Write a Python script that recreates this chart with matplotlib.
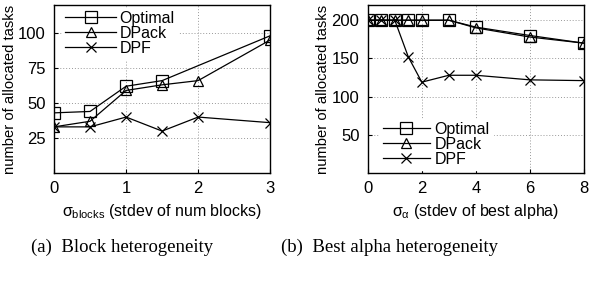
import matplotlib
matplotlib.use("Agg")
import matplotlib.pyplot as plt

plt.rcParams['font.family'] = ['Liberation Sans', 'DejaVu Sans']
plt.rcParams['mathtext.fontset'] = 'custom'
plt.rcParams['mathtext.rm'] = 'Liberation Sans'
plt.rcParams['mathtext.it'] = 'Liberation Sans'
plt.rcParams['mathtext.sf'] = 'Liberation Sans'

# (a) block heterogeneity
blocks_x_opt = [0, 0.5, 1, 1.5, 3]
blocks_opt = [43, 44, 62, 66, 98]
blocks_x = [0, 0.5, 1, 1.5, 2, 3]
blocks_dpack = [33, 37, 59, 63, 66, 95]
blocks_dpf = [33, 33, 40, 30, 40, 36]

# (b) best alpha heterogeneity
alpha_x = [0, 0.5, 1, 1.5, 2, 3, 4, 6, 8]
alpha_opt = [200, 200, 200, 200, 200, 200, 191, 180, 170]
alpha_dpack = [200, 200, 200, 200, 200, 200, 190, 178, 170]
alpha_dpf = [200, 200, 200, 152, 119, 128, 128, 122, 121]

fig = plt.figure(figsize=(6.14, 2.9), dpi=100)
ax1 = fig.add_axes([0.088, 0.403, 0.352, 0.580])
ax2 = fig.add_axes([0.599, 0.403, 0.352, 0.580])

lw = 0.9
style = dict(color='black', lw=lw, markerfacecolor='none', markeredgecolor='black', markeredgewidth=0.9)


def setup(ax):
    ax.grid(True, color='#999999', linestyle=(0, (1, 2)), linewidth=0.7)
    ax.set_axisbelow(True)
    ax.tick_params(direction='in', length=3, labelsize=12, top=False, right=False, pad=6)
    for s in ax.spines.values():
        s.set_linewidth(1.0)
    ax.set_ylabel('number of allocated tasks', fontsize=10.6, labelpad=1)


ax1.plot(blocks_x_opt, blocks_opt, marker='s', markersize=8.6, label='Optimal', **style)
ax1.plot(blocks_x, blocks_dpack, marker='^', markersize=6.5, label='DPack', **style)
ax1.plot(blocks_x, blocks_dpf, marker='x', markersize=7.5, label='DPF', **style)
setup(ax1)
ax1.set_xlim(0, 3)
ax1.set_ylim(0, 120)
ax1.set_xticks([0, 1, 2, 3])
ax1.set_yticks([25, 50, 75, 100])
ax1.set_xlabel(r'$\sigma_{\mathrm{blocks}}$ (stdev of num blocks)', fontsize=11.5)
leg1 = ax1.legend(loc='upper left', bbox_to_anchor=(0.0, 1.03), fontsize=11.5, handlelength=3.2,
                  handletextpad=0.2, labelspacing=0.0, borderpad=0.2, fancybox=False,
                  framealpha=1, edgecolor='white')

ax2.plot(alpha_x, alpha_opt, marker='s', markersize=8.6, label='Optimal', **style)
ax2.plot(alpha_x, alpha_dpack, marker='^', markersize=6.5, label='DPack', **style)
ax2.plot(alpha_x, alpha_dpf, marker='x', markersize=7.5, label='DPF', **style)
setup(ax2)
ax2.set_xlim(0, 8)
ax2.set_ylim(0, 220)
ax2.set_xticks([0, 2, 4, 6, 8])
ax2.set_yticks([50, 100, 150, 200])
ax2.set_xlabel(r'$\sigma_{\alpha}$ (stdev of best alpha)', fontsize=11.5)
leg2 = ax2.legend(loc='lower left', bbox_to_anchor=(0.02, -0.03), fontsize=11.5, handlelength=2.9,
                  handletextpad=0.3, labelspacing=0.0, borderpad=0.2, fancybox=False,
                  framealpha=1, edgecolor='white')

fig.text(0.199, 0.148, '(a)  Block heterogeneity', ha='center', va='center',
         family=['Liberation Serif'], fontsize=13.5)
fig.text(0.635, 0.148, '(b)  Best alpha heterogeneity', ha='center', va='center',
         family=['Liberation Serif'], fontsize=13.5)

fig.savefig('out.png', dpi=100)
